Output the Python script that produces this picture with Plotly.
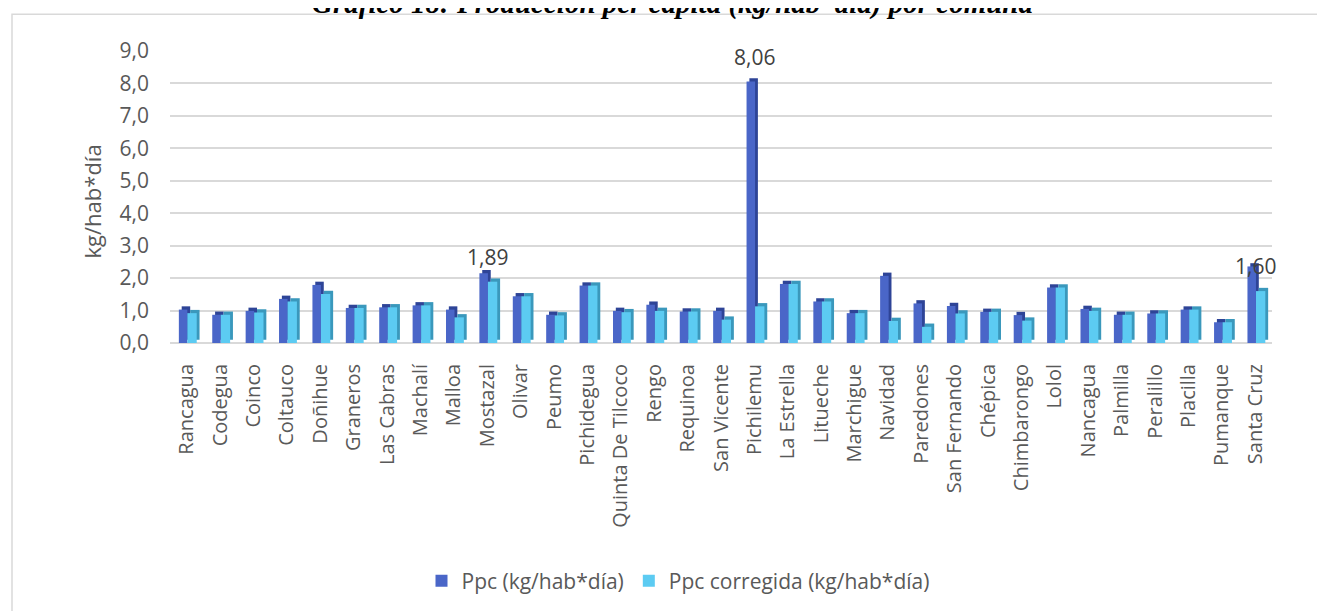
import plotly.graph_objects as go

comunas = ["Rancagua", "Codegua", "Coinco", "Coltauco", "Doñihue", "Graneros", "Las Cabras",
           "Machalí", "Malloa", "Mostazal", "Olivar", "Peumo", "Pichidegua", "Quinta De Tilcoco",
           "Rengo", "Requinoa", "San Vicente", "Pichilemu", "La Estrella", "Litueche", "Marchigue",
           "Navidad", "Paredones", "San Fernando", "Chépica", "Chimbarongo", "Lolol", "Nancagua",
           "Palmilla", "Peralillo", "Placilla", "Pumanque", "Santa Cruz"]

ppc = [1.03, 0.87, 0.99, 1.36, 1.79, 1.08, 1.10, 1.16, 1.03, 2.15, 1.44, 0.87, 1.77, 0.99,
       1.18, 0.97, 0.99, 8.06, 1.82, 1.28, 0.92, 2.07, 1.22, 1.14, 0.96, 0.86, 1.71, 1.05,
       0.87, 0.91, 1.03, 0.64, 2.36]

ppc_corr = [0.92, 0.87, 0.94, 1.28, 1.51, 1.08, 1.10, 1.16, 0.79, 1.89, 1.44, 0.85, 1.77, 0.95,
            0.99, 0.97, 0.72, 1.13, 1.82, 1.28, 0.92, 0.68, 0.50, 0.91, 0.96, 0.69, 1.71, 0.99,
            0.87, 0.91, 1.03, 0.64, 1.60]

label_comunas = ["Mostazal", "Pichilemu", "Santa Cruz"]
label_values = [1.89, 8.06, 1.60]

y_ticks = [0, 1, 2, 3, 4, 5, 6, 7, 8, 9]

FONT = "Open Sans"
GRAY = "#595959"
DARK_FRONT = "#4a66c8"
DARK_SIDE = "#2e4497"
LIGHT_FRONT = "#5ccbf2"
LIGHT_SIDE = "#3a98bc"
DEPTH = 0.1

# page pixel geometry of the plot area (page has an 8px body margin)
BODY = 8
FIG_W, FIG_H = 1325 - BODY, 611 - BODY
PX_L, PX_R, PX_T, PX_B = 170, 1272, 51, 344
PW, PH = PX_R - PX_L, PX_B - PX_T


def px_x(p):
    return (p - PX_L) / PW


def px_y(p):
    return (PX_B - p) / PH


fig = go.Figure()
fig.add_trace(go.Bar(x=comunas, y=ppc, base=DEPTH, offset=-0.15, width=0.255,
                     marker=dict(color=DARK_SIDE, line=dict(width=0)), showlegend=False,
                     hoverinfo="skip"))
fig.add_trace(go.Bar(x=comunas, y=ppc, name="Ppc (kg/hab*día)", offset=-0.235, width=0.255,
                     marker=dict(color=DARK_FRONT, line=dict(width=0))))
fig.add_trace(go.Bar(x=comunas, y=ppc_corr, base=DEPTH, offset=0.105, width=0.28,
                     marker=dict(color=LIGHT_SIDE, line=dict(width=0)), showlegend=False,
                     hoverinfo="skip"))
fig.add_trace(go.Bar(x=comunas, y=ppc_corr, name="Ppc corregida (kg/hab*día)", offset=0.02,
                     width=0.28, marker=dict(color=LIGHT_FRONT, line=dict(width=0))))

annotations = []
for c, v in zip(label_comunas, label_values):
    annotations.append(dict(x=c, y=v, xref="x", yref="y", text=f"{v:.2f}".replace(".", ","),
                            showarrow=False, yshift=25, font=dict(family=FONT, size=21, color="#404040")))

annotations.append(dict(x=px_x(92), y=px_y(202), xref="paper", yref="paper", text="kg/hab*día",
                        textangle=-90, showarrow=False, xanchor="center", yanchor="middle",
                        font=dict(family=FONT, size=22, color=GRAY)))

annotations.append(dict(x=px_x(672), y=px_y(22), xref="paper", yref="paper",
                        text="<b><i>Gráfico 18: Producción per cápita (kg/hab*día) por comuna</i></b>",
                        showarrow=False, xanchor="center", yanchor="bottom",
                        font=dict(family="Liberation Serif", size=29, color="#000000")))

fig.update_layout(
    width=FIG_W, height=FIG_H,
    margin=dict(l=PX_L - BODY, r=FIG_W - (PX_R - BODY), t=PX_T - BODY, b=FIG_H - (PX_B - BODY)),
    barmode="overlay",
    separators=",.",
    plot_bgcolor="white",
    paper_bgcolor="white",
    font=dict(family=FONT, size=20, color=GRAY),
    annotations=annotations,
    legend=dict(orientation="h", x=px_x(678), xanchor="center",
                y=px_y(581), yanchor="middle",
                font=dict(family=FONT, size=21, color=GRAY), traceorder="normal"),
    shapes=[dict(type="rect", xref="paper", yref="paper",
                 x0=px_x(12), x1=px_x(1345),
                 y0=px_y(640), y1=px_y(14),
                 line=dict(color="#d9d9d9", width=1.5), fillcolor="rgba(0,0,0,0)", layer="below")],
)

fig.update_yaxes(range=[0, 9], tickvals=y_ticks, tickformat=".1f", showgrid=True,
                 gridcolor="#d9d9d9", gridwidth=2, zeroline=True, zerolinecolor="#d9d9d9",
                 zerolinewidth=2, showline=False, ticks="", ticklabelstandoff=20,
                 tickfont=dict(family=FONT, size=21, color=GRAY))
fig.update_xaxes(tickangle=-90, showline=False, ticks="", ticklabelstandoff=16,
                 tickfont=dict(family=FONT, size=20, color=GRAY), range=[-0.5, len(comunas) - 0.5])

fig.write_html("out.html")
